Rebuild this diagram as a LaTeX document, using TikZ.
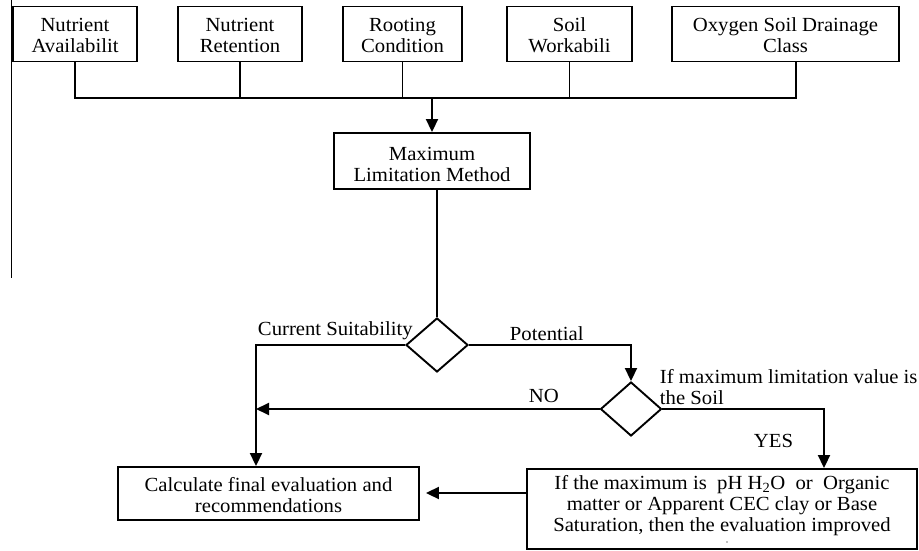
\documentclass[tikz,border=0pt]{standalone}
\usepackage{fontspec}
\setmainfont{Liberation Serif}[FakeStretch=1.035]
\usetikzlibrary{arrows.meta,shapes.geometric,calc}

\begin{document}
\begin{tikzpicture}[x=1pt,y=-1pt,
  line width=1.9pt,
  font=\fontsize{20}{21}\selectfont,
  box/.style={draw, line width=1.9pt, inner sep=0pt, align=center,
    minimum height=55pt, text height=38pt, text depth=0pt},
  decision/.style={draw, diamond, line width=1.9pt, inner sep=0pt, minimum width=62pt, minimum height=54pt},
  flow/.style={-{Triangle[length=13pt,width=12pt]}},
  lbl/.style={inner sep=0pt, anchor=base west}
]
\useasboundingbox (0,0) rectangle (919,551);

% left rule
\draw[line width=1.6pt] (11.5,0) -- (11.5,278);

% criteria boxes
\node[box, minimum width=124pt] (na) at (75,34) {Nutrient\\Availabilit};
\node[box, minimum width=124pt] (nr) at (240,34) {Nutrient\\Retention};
\node[box, minimum width=119pt] (rc) at (402.5,34) {Rooting\\Condition};
\node[box, minimum width=125pt] (sw) at (569.5,34) {Soil\\Workabili};
\node[box, minimum width=227pt] (os) at (785.5,34) {Oxygen Soil Drainage\\Class};

% method box
\node[box, minimum width=196pt, minimum height=56pt, text height=40pt] (mlm) at (432,161) {Maximum\\Limitation Method};

% decisions
\node[decision] (d1) at (437,345) {};
\node[decision, minimum width=61pt] (d2) at (631,409) {};

% result boxes
\node[box, minimum width=301pt, minimum height=53pt, text height=37pt] (calc) at (268.5,493.5) {Calculate final evaluation and\\recommendations};
\node[box, minimum width=390pt, minimum height=80pt, text height=44pt] (imp) at (722,509) {If the maximum is\ \ pH H\textsubscript{2}O\ \ or\ \ Organic\\matter or Apparent CEC clay or Base\\Saturation, then the evaluation improved};
\fill[gray] (727,542) circle (0.9pt);

% collecting bus
\coordinate (bus) at (0,98);
\coordinate (osdrop) at ($(os.south)+(10.5,0)$);
\draw (na.south) -- (na.south |- bus) -- (osdrop |- bus) -- (osdrop);
\draw (nr.south) -- (nr.south |- bus);
\draw (rc.south) -- (rc.south |- bus);
\draw (sw.south) -- (sw.south |- bus);
\draw[flow] (mlm.north |- bus) -- (mlm.north);

% method to first decision
\draw (d1.north |- mlm.south) -- (d1.north);

% branches
\coordinate (leftrail) at ($(calc.north)+(-12.5,0)$);
\coordinate (yesrail) at ($(imp.north)+(102,0)$);
\coordinate (impout) at ($(imp.west)+(0,-16)$);
\draw[flow] (d1.west) -| (leftrail);
\draw[flow] (d1.east) -| (d2.north);
\draw[flow] (d2.west) -- (d2.west -| leftrail);
\draw[flow] (d2.east) -| (yesrail);
\draw[flow, shorten >=6pt] (impout) -- (impout -| calc.east);

% branch labels
\node[lbl] (cs) at (257,335) {Current Suitability};
\node[lbl] (pot) at (509,340) {Potential};
\node[lbl] (no) at (528,402) {NO};
\node[lbl, align=left] (ifmax) at (659,404) {If maximum limitation value is\\the Soil};
\node[lbl] (yes) at (753,447) {YES};
\end{tikzpicture}
\end{document}
